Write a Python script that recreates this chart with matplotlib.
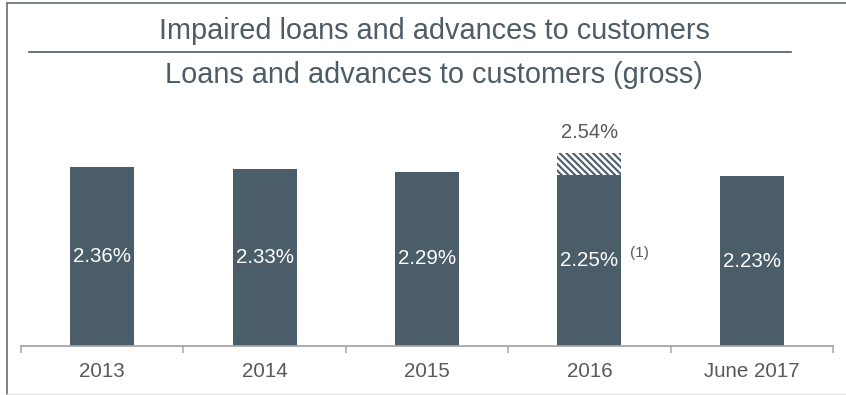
import matplotlib
matplotlib.use('Agg')
import matplotlib.pyplot as plt
from matplotlib.lines import Line2D
import numpy as np

# Impaired loans / gross loans ratio, by period
periods = ['2013', '2014', '2015', '2016', 'June 2017']
ratios = [2.36, 2.33, 2.29, 2.25, 2.23]
# 2016 ratio before the adjustment flagged by footnote (1)
ratio2016_before = 2.54
footnote = '(1)'

title_top = 'Impaired loans and advances to customers'
title_bottom = 'Loans and advances to customers (gross)'

slate = '#4b5d69'
text_grey = '#595959'
axis_grey = '#a6a6a6'

plt.rcParams['font.family'] = ['Liberation Sans', 'DejaVu Sans']
plt.rcParams['hatch.linewidth'] = 1.5

W, H = 846, 395
fig = plt.figure(figsize=(W / 100, H / 100), dpi=100)

# axes placed in pixels: x axis from 21 to 833, baseline at 345.7 from top
px_per_unit = 75.9
ax_bottom = 345.7
ax_top = 100.0
ax = fig.add_axes([21 / W, (H - ax_bottom) / H, 812 / W, (ax_bottom - ax_top) / H])

x = np.arange(len(periods))
bar_w = 0.394
bars = ax.bar(x, ratios, width=bar_w, color=slate, linewidth=0)

# hatched top showing the pre-adjustment 2016 figure
i16 = periods.index('2016')
hatched = ax.bar(x[i16], ratio2016_before - ratios[i16], bottom=ratios[i16], width=bar_w,
                 color='white', edgecolor=slate, hatch='\\' * 5, linewidth=0)

ax.bar_label(bars, labels=['%.2f%%' % v for v in ratios], label_type='center',
             color='white', fontsize=14.8)
ax.annotate('%.2f%%' % ratio2016_before, xy=(x[i16], ratio2016_before),
            xytext=(0, 8), textcoords='offset points', ha='center', va='bottom',
            color=text_grey, fontsize=14.5)
ax.annotate(footnote, xy=(x[i16] + bar_w / 2, ratios[i16] / 2), xytext=(6.5, 5),
            textcoords='offset points', ha='left', va='center',
            color=text_grey, fontsize=11)

ax.set_xlim(-0.5, len(periods) - 0.5)
ax.set_ylim(0, (ax_bottom - ax_top) / px_per_unit)

for s in ['top', 'left', 'right']:
    ax.spines[s].set_visible(False)
ax.spines['bottom'].set_color(axis_grey)
ax.spines['bottom'].set_linewidth(1.3)
ax.set_yticks([])

ax.set_xticks(x)
ax.set_xticklabels(periods, fontsize=14.8, color=text_grey)
ax.set_xticks(np.arange(-0.5, len(periods)), minor=True)
ax.tick_params(axis='x', which='major', length=0, pad=12)
ax.tick_params(axis='x', which='minor', length=5, width=1.1, color=axis_grey, direction='out')

# heading block with separator rule
fig.text(434 / W, 1 - 39 / H, title_top, ha='center', va='baseline',
         fontsize=20.8, color='#4d5c67')
fig.add_artist(Line2D([29 / W, 791 / W], [1 - 51.5 / H, 1 - 51.5 / H],
                      color='#4d5c67', linewidth=1.2))
fig.text(434 / W, 1 - 83 / H, title_bottom, ha='center', va='baseline',
         fontsize=20.8, color='#4d5c67')

# panel frame
fig.add_artist(Line2D([7 / W, 1], [1 - 3 / H, 1 - 3 / H], color='#6e7a83', linewidth=1.3))
fig.add_artist(Line2D([7 / W, 7 / W], [0, 1 - 3 / H], color='#6e7a83', linewidth=1.3))
fig.add_artist(Line2D([7 / W, 1], [1 - 394 / H, 1 - 394 / H], color='#e3e3e3', linewidth=1))

fig.savefig('out.png', dpi=100)
